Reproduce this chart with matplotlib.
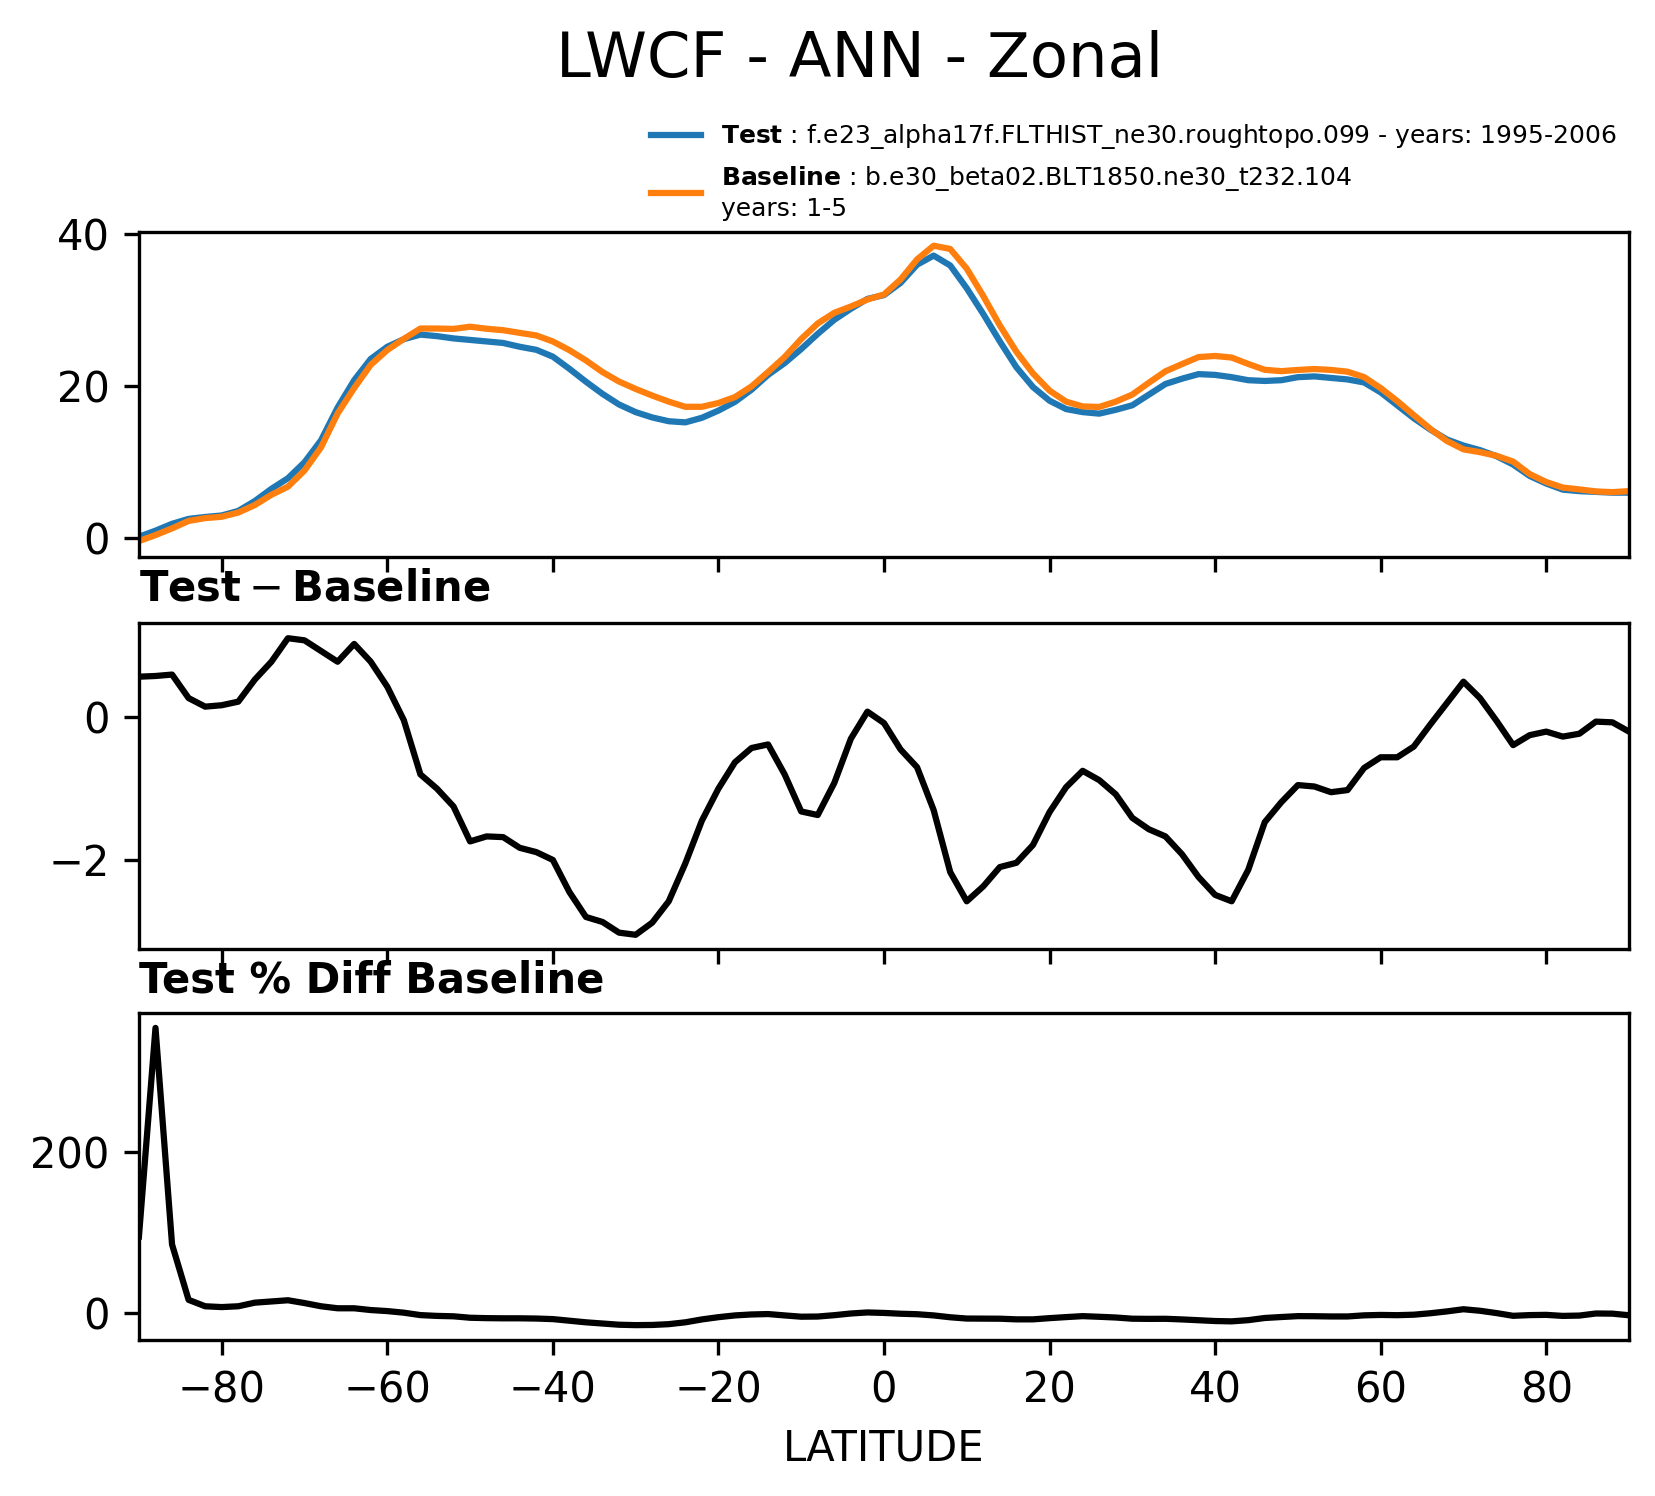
import numpy as np
import matplotlib
matplotlib.use("Agg")
import matplotlib.pyplot as plt

# latitude grid (deg)
lat = np.arange(-90, 91, 2)

# zonal mean LWCF (W/m2)
test_vals = [
    0.2, 1.0, 1.9, 2.55, 2.8, 3.0, 3.6, 4.9, 6.5, 7.9,
    10.0, 12.9, 17.2, 20.8, 23.6, 25.2, 26.2, 26.8, 26.6, 26.3,
    26.1, 25.9, 25.7, 25.2, 24.8, 23.9, 22.3, 20.6, 19.0, 17.6,
    16.6, 15.9, 15.4, 15.25, 15.85, 16.8, 17.95, 19.55, 21.5, 23.05,
    24.9, 26.9, 28.75, 30.2, 31.5, 32.0, 33.6, 36.0, 37.2, 35.9,
    32.9, 29.5, 25.9, 22.5, 19.9, 18.1, 17.0, 16.6, 16.4, 16.9,
    17.5, 18.9, 20.3, 21.0, 21.6, 21.5, 21.2, 20.8, 20.7, 20.8,
    21.2, 21.3, 21.1, 20.9, 20.5, 19.2, 17.5, 15.8, 14.3, 13.0,
    12.2, 11.6, 10.8, 9.7, 8.2, 7.2, 6.4, 6.2, 6.1, 6.0,
    6.0,
]
base_vals = [
    -0.37, 0.42, 1.3, 2.28, 2.65, 2.83, 3.38, 4.37, 5.72, 6.79,
    8.92, 11.97, 16.42, 19.77, 22.82, 24.77, 26.24, 27.6, 27.6, 27.55,
    27.84, 27.57, 27.38, 27.03, 26.69, 25.9, 24.75, 23.4, 21.87, 20.62,
    19.65, 18.78, 17.98, 17.3, 17.3, 17.8, 18.58, 19.98, 21.88, 23.85,
    26.22, 28.27, 29.67, 30.5, 31.42, 32.08, 34.05, 36.7, 38.5, 38.07,
    35.48, 31.87, 28.0, 24.54, 21.69, 19.43, 17.98, 17.35, 17.28, 17.98,
    18.91, 20.47, 21.97, 22.92, 23.84, 23.99, 23.78, 22.94, 22.17, 21.99,
    22.15, 22.27, 22.15, 21.92, 21.21, 19.76, 18.06, 16.21, 14.4, 12.8,
    11.7, 11.33, 10.85, 10.09, 8.45, 7.4, 6.67, 6.43, 6.16, 6.07,
    6.2,
]
diff_vals = [
    0.57, 0.58, 0.60, 0.27, 0.15, 0.17, 0.22, 0.53, 0.78, 1.11,
    1.08, 0.93, 0.78, 1.03, 0.78, 0.43, -0.04, -0.80, -1.00, -1.25,
    -1.74, -1.67, -1.68, -1.83, -1.89, -2.00, -2.45, -2.80, -2.87, -3.02,
    -3.05, -2.88, -2.58, -2.05, -1.45, -1.00, -0.63, -0.43, -0.38, -0.80,
    -1.32, -1.37, -0.92, -0.30, 0.08, -0.08, -0.45, -0.70, -1.30, -2.17,
    -2.58, -2.37, -2.10, -2.04, -1.79, -1.33, -0.98, -0.75, -0.88, -1.08,
    -1.41, -1.57, -1.67, -1.92, -2.24, -2.49, -2.58, -2.14, -1.47, -1.19,
    -0.95, -0.97, -1.05, -1.02, -0.71, -0.56, -0.56, -0.41, -0.10, 0.20,
    0.50, 0.27, -0.05, -0.39, -0.25, -0.20, -0.27, -0.23, -0.06, -0.07,
    -0.20,
]
pct_vals = [
    95, 355, 85, 16, 8, 7, 8, 12.5, 14, 15.5,
    12, 8, 5.5, 5.5, 3.3, 2, 0, -3, -4, -4.5,
    -6.3, -6.8, -7, -7, -7.3, -8, -10, -12, -13.5, -15,
    -15.5, -15.3, -14.3, -12, -8.4, -5.6, -3.4, -2.2, -1.7, -3.4,
    -5, -4.8, -3.1, -1, 0.3, -0.3, -1.3, -1.9, -3.4, -5.7,
    -7.3, -7.4, -7.5, -8.3, -8.3, -6.8, -5.5, -4.3, -5.1, -6,
    -7.5, -7.7, -7.6, -8.4, -9.4, -10.4, -10.8, -9.3, -6.6, -5.4,
    -4.3, -4.4, -4.7, -4.7, -3.3, -2.8, -3.1, -2.5, -0.7, 1.6,
    4.3, 2.4, -0.5, -3.9, -3, -2.7, -4, -3.6, -1, -1.2,
    -3.2,
]

test_label = r"$\bf{Test}$ : f.e23_alpha17f.FLTHIST_ne30.roughtopo.099 - years: 1995-2006"
base_label = r"$\bf{Baseline}$ : b.e30_beta02.BLT1850.ne30_t232.104" + "\nyears: 1-5"

fig = plt.figure(figsize=(5.52, 4.9867), dpi=300)
fig.suptitle("LWCF - ANN - Zonal", x=0.519, y=0.9487, va="baseline", fontsize=15)

ax0 = fig.add_axes([0.0839, 0.6275, 0.8998, 0.2176])
ax1 = fig.add_axes([0.0839, 0.3656, 0.8998, 0.2177])
ax2 = fig.add_axes([0.0839, 0.1043, 0.8998, 0.2184])

ax0.plot(lat, test_vals, color="C0", lw=1.5, label=test_label)
ax0.plot(lat, base_vals, color="C1", lw=1.5, label=base_label)
ax0.set_ylim(-2.5, 40.34)
ax0.set_yticks([0, 20, 40])
ax0.legend(loc="lower right", bbox_to_anchor=(1.007, 0.965), frameon=False,
           fontsize=6)

ax1.plot(lat, diff_vals, color="k", lw=1.5)
ax1.set_ylim(-3.25, 1.318)
ax1.set_yticks([-2, 0])
ax1.set_title(r"$\mathbf{Test} - \mathbf{Baseline}$", loc="left", fontsize=10, pad=5.5)

ax2.plot(lat, pct_vals, color="k", lw=1.5)
ax2.set_ylim(-34, 373.3)
ax2.set_yticks([0, 200])
ax2.set_title("Test % Diff Baseline", loc="left", fontsize=10, fontweight="bold", pad=5)
ax2.set_xlabel("LATITUDE", fontsize=10)

for ax in (ax0, ax1, ax2):
    ax.set_xlim(-90, 90)
    ax.set_xticks(np.arange(-80, 81, 20))
    ax.tick_params(labelsize=10)
ax0.tick_params(labelbottom=False)
ax1.tick_params(labelbottom=False)

fig.savefig("out.png", dpi=300)
